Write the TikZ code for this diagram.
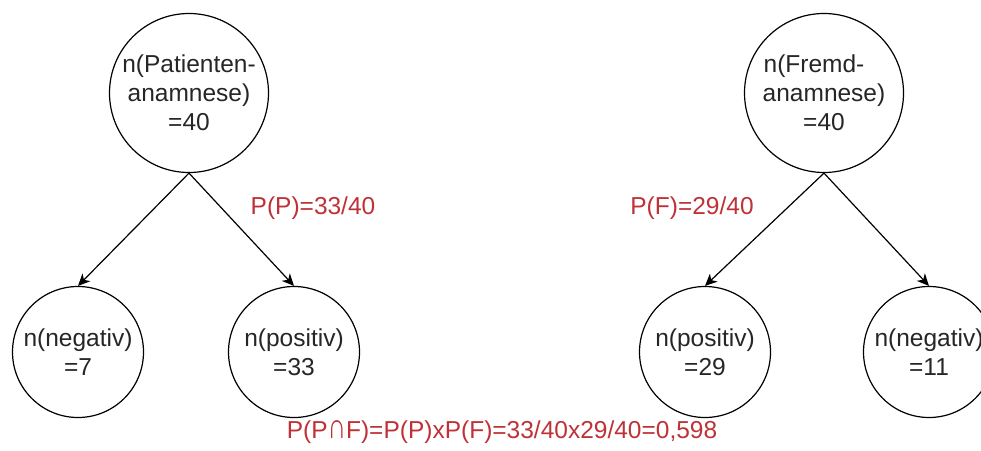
\documentclass[tikz,border=0pt]{standalone}
\usepackage{fontspec}
\setmainfont{Liberation Sans}
\usetikzlibrary{arrows.meta}
\definecolor{probred}{RGB}{190,50,55}
\newcommand{\schnitt}{\scalebox{1.05}[1.45]{∩}}
\begin{document}
\begin{tikzpicture}[x=1pt,y=-1pt,
		knoten/.style={draw,circle,line width=1.2pt,inner sep=0pt,align=center,text=black!85,font=\fontsize{24.5}{29}\selectfont},
		gross/.style={knoten,minimum size=159pt},
		klein/.style={knoten,minimum size=131pt},
		prob/.style={text=probred,inner sep=0pt,font=\fontsize{24.5}{29}\selectfont},
		pfeil/.style={line width=1.2pt,-{Stealth[length=12pt,width=11pt,inset=3.5pt]}}]
		\useasboundingbox (0,0) rectangle (981,450);
		\clip (0,0) rectangle (981,450);
		% Patientenanamnese
		\node[gross] (pat) at (189,93) {n(Patienten-\\anamnese)\\=40};
		\node[klein] (patneg) at (78,352) {n(negativ)\\=7};
		\node[klein] (patpos) at (294,352) {n(positiv)\\=33};
		\draw[pfeil] (pat.south)--(patneg.north);
		\draw[pfeil] (pat.south)--(patpos.north);
		\node[prob] (pp) at (313,208) {P(P)=33/40};
		% Fremdanamnese
		\node[gross] (fremd) at (824,93) {n(Fremd-\hspace*{20pt}\\anamnese)\\=40};
		\node[klein] (fremdpos) at (705,352) {n(positiv)\\=29};
		\node[klein] (fremdneg) at (929,352) {n(negativ)\\=11};
		\draw[pfeil] (fremd.south)--(fremdpos.north);
		\draw[pfeil] (fremd.south)--(fremdneg.north);
		\node[prob] (pf) at (692,208) {P(F)=29/40};
		\node[prob] (ppf) at (502,432) {P(P\schnitt F)=P(P)xP(F)=33/40x29/40=0,598};
	\end{tikzpicture}
\end{document}
